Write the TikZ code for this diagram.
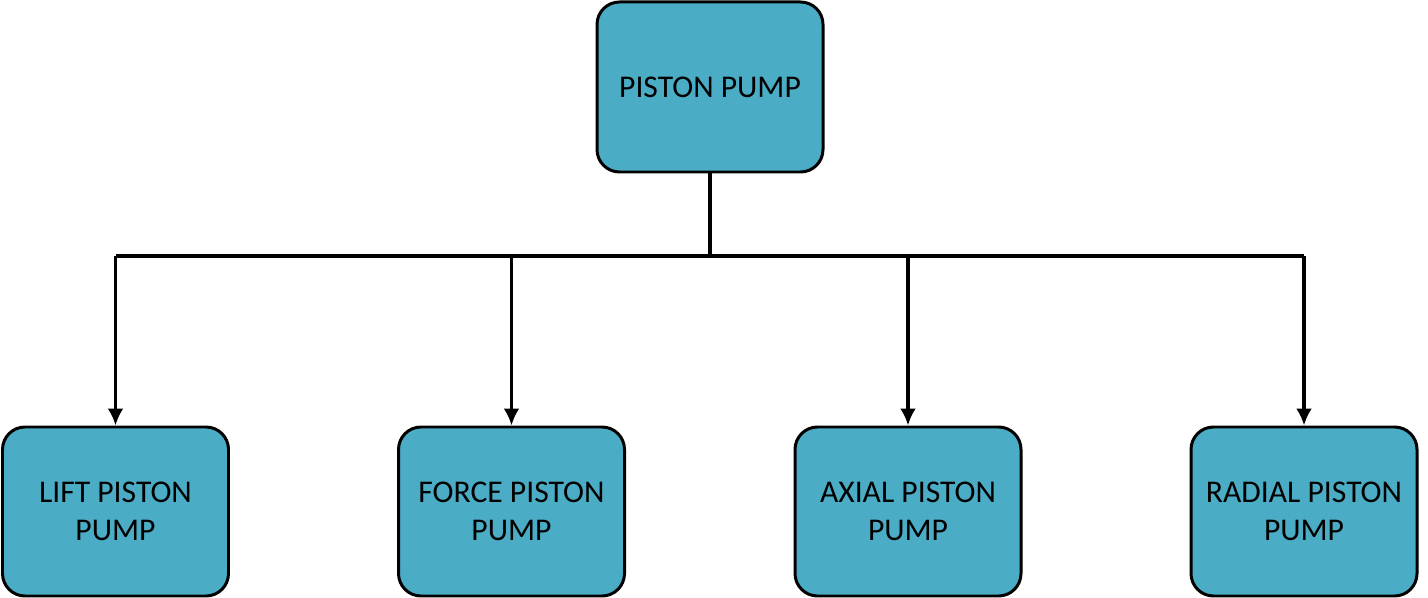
\documentclass[tikz,border=0pt]{standalone}
\usepackage{fontspec}
\setmainfont{Carlito}
\usetikzlibrary{arrows.meta}
\definecolor{pumpfill}{HTML}{4BACC6}
\tikzset{
  pumpbox/.style={draw, fill=pumpfill, line width=1.7pt, rounded corners=0.45cm,
                  minimum width=4.52cm, minimum height=3.38cm,
                  font=\fontsize{18}{21.6}\selectfont, align=center, inner sep=0pt},
  link/.style={line width=1.9pt},
  linkarrow/.style={link, -{Latex[length=3.4mm, width=3.2mm]}},
}

\begin{document}
\begin{tikzpicture}
    \useasboundingbox (0,0) rectangle (28.56,-11.96);
    \node[pumpbox, minimum height=3.4cm] (top) at (14.2, -1.74) {PISTON PUMP};
    \node[pumpbox] (lift) at (2.31, -10.23) {LIFT PISTON\\PUMP};
    \node[pumpbox] (force) at (10.23, -10.23) {FORCE PISTON\\PUMP};
    \node[pumpbox] (axial) at (18.16, -10.23) {AXIAL PISTON\\PUMP};
    \node[pumpbox] (radial) at (26.08, -10.23) {RADIAL PISTON\\PUMP};
    \coordinate (split) at (14.2, -5.12);
    \draw[link] (top.south) -- (split);
    \draw[link] (lift.north |- split) -- (radial.north |- split);
    \foreach \b in {lift, force, axial, radial}
      \draw[linkarrow] (\b.north |- split) -- (\b.north);
\end{tikzpicture}
\end{document}
